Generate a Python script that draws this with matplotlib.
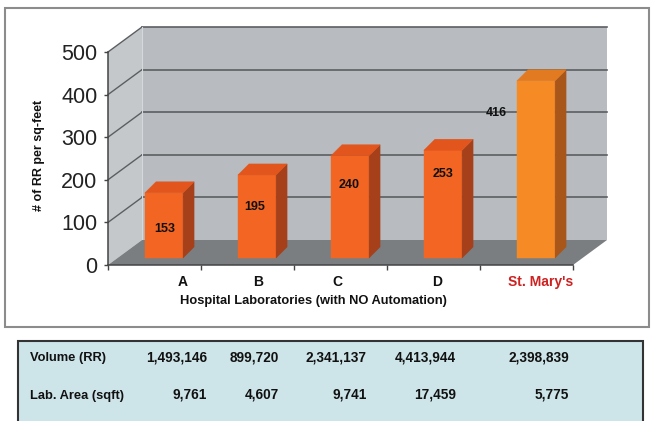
import matplotlib.pyplot as plt
from matplotlib.patches import Polygon, Rectangle

# data
labs = ['A', 'B', 'C', 'D', "St. Mary's"]
rr_per_sqft = [153, 195, 240, 253, 416]
volume_rr = [1493146, 899720, 2341137, 4413944, 2398839]
area_sqft = [9761, 4607, 9741, 17459, 5775]
yticks = [0, 100, 200, 300, 400, 500]

W, H = 651, 421
plt.rcParams['font.family'] = ['Liberation Sans', 'DejaVu Sans']

fig = plt.figure(figsize=(W / 100, H / 100), dpi=100)

# background layer in pixel coords (frame + table box)
bg = fig.add_axes([0, 0, 1, 1])
bg.set_xlim(0, W)
bg.set_ylim(H, 0)
bg.axis('off')
bg.add_patch(Rectangle((5, 8), 644, 319, fc='white', ec='#8c8c8c', lw=1.5))
bg.add_patch(Rectangle((18, 341), 625, 95, fc='#cde4e8', ec='#333333', lw=1.5))

# table text (y = baseline in px)
col_right = [207, 279, 367, 456, 569]
rows = [('Volume (RR)', volume_rr, 361.5), ('Lab. Area (sqft)', area_sqft, 398.5)]
for name, vals, y in rows:
    bg.text(30, y, name, ha='left', va='baseline', fontsize=9.3, fontweight='bold', color='#111')
    for x, v in zip(col_right, vals):
        bg.text(x, y, f'{v:,}', ha='right', va='baseline', fontsize=9.8, fontweight='bold', color='#111')

# front plane of the 3D chart
ax_l, ax_b, ax_w, ax_h = 108, H - 265, 465, 213
ax = fig.add_axes([ax_l / W, ax_b / H, ax_w / W, ax_h / H])
n = len(labs)
ymax = yticks[-1]
ax.set_xlim(0, n)
ax.set_ylim(0, ymax)
ax.patch.set_visible(False)
sx, sy = n / ax_w, ymax / ax_h      # data units per pixel
DX, DY = 34 * sx, 25 * sy           # depth of floor
f1 = 0.28                           # bar front depth fraction
bw = 0.41
bdx, bdy = 11 * sx, 11 * sy         # bar depth

wall_c, side_c, floor_c, grid_c = '#b8bcc0', '#c4c8cb', '#7b7e81', '#5c5f62'
ax.add_patch(Polygon([(DX, DY), (n + DX, DY), (n + DX, ymax + DY), (DX, ymax + DY)],
                     closed=True, fc=wall_c, ec='none', clip_on=False, zorder=1))
ax.add_patch(Polygon([(0, 0), (DX, DY), (DX, ymax + DY), (0, ymax)],
                     closed=True, fc=side_c, ec='none', clip_on=False, zorder=1))
ax.add_patch(Polygon([(0, 0), (n, 0), (n + DX, DY), (DX, DY)],
                     closed=True, fc=floor_c, ec='none', clip_on=False, zorder=1.2))
for v in yticks[1:]:
    ax.plot([DX, n + DX], [v + DY, v + DY], color=grid_c, lw=1.2, clip_on=False, zorder=1.1)
for v in yticks[1:]:
    ax.plot([0, DX], [v, v + DY], color=grid_c, lw=1.0, clip_on=False, zorder=1.1)
ax.plot([DX, DX], [DY, ymax + DY], color='#d6d9db', lw=0.8, clip_on=False, zorder=1.1)

# bars
cols = [('#f26522', '#e2551c', '#a5401a')] * 4 + [('#f68b26', '#e27a22', '#a9561b')]
label_drop = [36, 32, 29, 24, 32]   # px below bar top
label_dx = [1, -2, -1, 0, -40]      # px from bar centre
for i, v in enumerate(rr_per_sqft):
    front, top, side = cols[i]
    x0 = i + 0.5 - bw / 2 + f1 * DX
    y0 = f1 * DY
    ax.add_patch(Polygon([(x0, y0), (x0 + bw, y0), (x0 + bw, y0 + v), (x0, y0 + v)],
                         closed=True, fc=front, ec=front, lw=0.3, clip_on=False, zorder=3))
    ax.add_patch(Polygon([(x0 + bw, y0), (x0 + bw + bdx, y0 + bdy),
                          (x0 + bw + bdx, y0 + v + bdy), (x0 + bw, y0 + v)],
                         closed=True, fc=side, ec=side, lw=0.3, clip_on=False, zorder=3))
    ax.add_patch(Polygon([(x0, y0 + v), (x0 + bw, y0 + v),
                          (x0 + bw + bdx, y0 + v + bdy), (x0 + bdx, y0 + v + bdy)],
                         closed=True, fc=top, ec=top, lw=0.3, clip_on=False, zorder=3))
    ax.annotate(str(v), xy=(x0 + bw / 2, y0 + v), xytext=(label_dx[i] * 0.72, -label_drop[i] * 0.72),
                textcoords='offset points', ha='center', va='center',
                fontsize=9, fontweight='bold', color='#111', zorder=5)

# axes
for s in ['top', 'right']:
    ax.spines[s].set_visible(False)
for s in ['left', 'bottom']:
    ax.spines[s].set_color('#444444')
    ax.spines[s].set_linewidth(1.1)
    ax.spines[s].set_zorder(4)
ax.set_yticks(yticks)
ax.set_yticklabels([str(t) for t in yticks])
ax.set_xticks(range(n + 1))
ax.set_xticklabels([])
ax.tick_params(axis='y', direction='out', length=3, width=1, color='#444444',
               labelsize=15.5, labelcolor='#222222', pad=4.5)
ax.tick_params(axis='x', direction='out', length=3.6, width=1, color='#444444')

# category labels
cat_dx = [28, 11, -3, 4, 14]        # px shift from category centre
for i, lab in enumerate(labs):
    ax.text(i + 0.5 + cat_dx[i] * sx, -17 * sy, lab, ha='center', va='center',
            fontsize=10, fontweight='bold', color='#cc2222' if i == n - 1 else '#111')

ax.text((313 - ax_l) * sx, -36 * sy, 'Hospital Laboratories (with NO Automation)',
        ha='center', va='center', fontsize=9.3, fontweight='bold', color='#111')
ax.text((39 - ax_l) * sx, (265 - 155) * sy, '# of RR per sq-feet', rotation=90,
        ha='center', va='center', fontsize=9, fontweight='bold', color='#111')

fig.savefig('out.png', dpi=100)
